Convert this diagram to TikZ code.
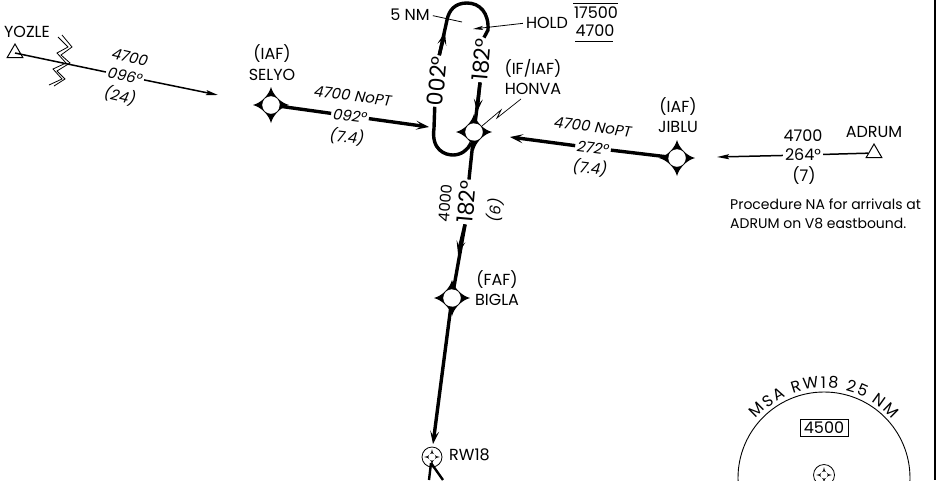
\documentclass[tikz,border=0pt]{standalone}
\usepackage{fontspec}
\setmainfont{Poppins}
\usetikzlibrary{shapes.geometric, arrows.meta, decorations.text}

\begin{document}
\begin{tikzpicture}[x=1pt, y=-1pt]
        \tikzstyle{lbl} = [inner sep=0pt, font=\fontsize{16}{18}\selectfont]
        \tikzstyle{alt} = [inner sep=0pt, font=\fontsize{15}{18}\itshape]
        \tikzstyle{big} = [inner sep=1pt, font=\fontsize{22}{24}\selectfont]
        \tikzstyle{leg} = [line width=3.4pt, -{Stealth[length=13pt, width=9pt, inset=6pt]}]
        \tikzstyle{legn} = [line width=3.4pt]
        \tikzstyle{feeder} = [line width=1.5pt, -{Stealth[length=12pt, width=5pt, inset=2pt]}]
        \tikzstyle{feedern} = [line width=1.5pt]
        \tikzstyle{fixdot} = [circle, fill=white, draw=white, inner sep=0pt, minimum size=17pt]
        \tikzstyle{navaid} = [regular polygon, regular polygon sides=3, draw=black, line width=1pt, minimum size=18pt, inner sep=0pt]
        \tikzstyle{ring} = [circle, draw=black, line width=0.8pt, inner sep=0pt]
        \tikzset{fixstar/.pic={
            \fill[black] (0,-18) .. controls (2,-10) and (10,-2) .. (18,0)
                .. controls (10,2) and (2,10) .. (0,18)
                .. controls (-2,10) and (-10,2) .. (-18,0)
                .. controls (-10,-2) and (-2,-10) .. (0,-18) -- cycle;
        }}
        \tikzset{refmark/.pic={
            \fill[black] (0,-8) .. controls (0.5,-3) and (3,-0.5) .. (8,0)
                .. controls (3,0.5) and (0.5,3) .. (0,8)
                .. controls (-0.5,3) and (-3,0.5) .. (-8,0)
                .. controls (-3,-0.5) and (-0.5,-3) .. (0,-8) -- cycle;
            \fill[white] (0,0) circle (3.6);
        }}
        \useasboundingbox (0,0) rectangle (937,480);
        \clip (0,0) rectangle (937,480);

        % right border
        \coordinate (bordertop) at (935,0);
        \coordinate (borderbot) at (935,480);
        \draw[line width=2.6pt] (bordertop) -- (borderbot);

        % fixes
        \foreach \x/\y in {271/105, 474/132, 677/158, 452/298}{
            \pic at (\x,\y) {fixstar};
        }
        \node[fixdot] (selyo) at (271,105){};
        \node[fixdot] (honva) at (474,132){};
        \node[fixdot] (jiblu) at (677,158){};
        \node[fixdot] (bigla) at (452,298){};

        \node[lbl] (yozlename) at (27,32){YOZLE};
        \node[lbl] (selyoiaf) at (272,54){(IAF)};
        \node[lbl] (selyoname) at (272,75){SELYO};
        \node[lbl] (hontag) at (533,68){(IF/IAF)};
        \node[lbl] (honname) at (533,89){HONVA};
        \node[lbl] (jibiaf) at (678,107){(IAF)};
        \node[lbl] (jibname) at (678,127){JIBLU};
        \node[lbl] (biglafaf) at (497,280){(FAF)};
        \node[lbl] (biglaname) at (497,300){BIGLA};
        \node[lbl] (adrumname) at (874,132){ADRUM};

        % YOZLE feeder
        \coordinate (yozle) at (15,53);
        \coordinate (selyoin) at (218,95);
        \node[alt, rotate=-13] (yozalt) at (130,57){4700};
        \node[alt, rotate=-13, inner sep=2pt] (yozcrs) at (125,76){096°};
        \node[alt, rotate=-13] (yozdist) at (120,96){(24)};
        \draw[feedern] (yozle) -- (yozcrs);
        \draw[feeder] (yozcrs) -- (selyoin);
        \node[navaid] (yoztri) at (15,53){};

        % break marks
        \draw[line width=0.8pt] (58,37) -- (68,47) -- (57,53) -- (66,63) -- (53,69) -- (62,79) -- (49,85);
        \draw[line width=0.8pt] (62,35) -- (72,47) -- (61,55) -- (70,63) -- (57,71) -- (65,79) -- (54,86);

        % SELYO leg
        \node[alt, rotate=-7] (selalt) at (353,96){4700 NoPT};
        \node[alt, rotate=-7, inner sep=2pt] (selcrs) at (350,116){092°};
        \node[alt, rotate=-7] (seldist) at (347,137){(7.4)};
        \coordinate (holdentry) at (429,127);
        \draw[legn] (selyo) -- (selcrs);
        \draw[leg] (selcrs) -- (holdentry);

        % JIBLU leg
        \node[alt, rotate=-7] (jibalt) at (593,127){4700 NoPT};
        \node[alt, rotate=-7, inner sep=2pt] (jibcrs) at (593,148){272°};
        \node[alt, rotate=-7] (jibdist) at (590,168){(7.4)};
        \coordinate (honvain) at (510,137);
        \draw[legn] (jiblu) -- (jibcrs);
        \draw[leg] (jibcrs) -- (honvain);

        % ADRUM feeder
        \node[navaid] (adrum) at (874,153){};
        \node[lbl] (adralt) at (803,136){4700};
        \node[lbl, inner sep=2pt] (adrcrs) at (803,155){264°};
        \node[lbl] (adrdist) at (804,176){(7)};
        \coordinate (jibluin) at (717,157);
        \draw[feedern] (adrum) -- (adrcrs);
        \draw[feeder] (adrcrs) -- (jibluin);
        \node[inner sep=0pt, font=\fontsize{14}{19}\selectfont, align=left, anchor=west] (adrnote) at (730,213.5){Procedure NA for arrivals at\\ADRUM on V8 eastbound.};

        % holding pattern
        \node[big, rotate=85] (holdout) at (437,81){002°};
        \node[big, rotate=85] (holdin) at (482,60){182°};
        \coordinate (holdarr) at (445,32);
        \draw[legn] (holdin.west) -- (honva);
        \coordinate (honvaarr) at (477,112);
        \draw[leg] (holdin.west) -- (honvaarr);
        \draw[legn] (holdin.east) -- (488,30) .. controls (489,13) and (480,3) .. (467,3)
            .. controls (455,3) and (449,10) .. (447,20) -- (holdout.east);
        \draw[leg] (holdout.east) -- (holdarr);
        \draw[legn] (holdout.west) -- (434,128) .. controls (431,150) and (445,155) .. (453,155)
            .. controls (461,155) and (468,150) .. (471,143);

        % final
        \node[inner sep=0pt, font=\fontsize{15}{17}\selectfont, rotate=85] (finalalt) at (445,203){4000};
        \node[big, rotate=85] (finalcrs) at (467,202){182°};
        \node[alt, rotate=85] (finaldist) at (495,210){(6)};
        \coordinate (rwyin) at (433,444);
        \coordinate (biglain) at (458,254);
        \draw[legn] (honva) -- (finalcrs.east);
        \draw[leg] (finalcrs.west) -- (biglain);
        \draw[legn] (finalcrs.west) -- (bigla);
        \draw[leg] (bigla) -- (rwyin);

        % hold labels
        \node[lbl] (fivenm) at (410,15){5 NM};
        \node[lbl] (holdlabel) at (547,23){HOLD};
        \node[lbl] (holdtop) at (596,13){17500};
        \node[lbl] (holdbot) at (595,31){4700};
        \coordinate (fivenmend) at (462,22);
        \coordinate (holdtip) at (473,29);
        \coordinate (topa) at (573,3);
        \coordinate (topb) at (618,3);
        \coordinate (bota) at (575,41);
        \coordinate (botb) at (613,41);
        \draw[line width=0.8pt, shorten <=3pt] (fivenm.east) -- (fivenmend);
        \draw[line width=0.8pt, shorten <=3pt, -{Stealth[length=10pt, width=4pt, inset=2pt]}] (holdlabel.west) -- (holdtip);
        \draw[line width=0.8pt] (topa) -- (topb);
        \draw[line width=0.8pt] (bota) -- (botb);

        % HONVA pointer
        \coordinate (ptrstart) at (521,99);
        \coordinate (ptrend) at (482,126);
        \draw[line width=0.7pt] (ptrstart) -- (497,118) -- (501,110) -- (ptrend);

        % runway
        \node[ring, minimum size=20pt] (rw) at (432,457){};
        \pic at (432,457) {refmark};
        \node[lbl, anchor=west] (rwlabel) at (449,455){RW18};
        \coordinate (rwfoot) at (431,463);
        \coordinate (rwa) at (429,480);
        \coordinate (rwb) at (443,480);
        \draw[line width=2.4pt] (rwfoot) -- (rwa);
        \draw[line width=2.4pt] (rwfoot) -- (rwb);

        % MSA circle
        \node[ring, line width=0.9pt, minimum size=172pt] (msa) at (824,478){};
        \node[draw=black, line width=0.8pt, minimum width=48pt, minimum height=17pt, inner sep=0pt, lbl] (msabox) at (824,428){4500};
        \node[ring, minimum size=21pt] (msaref) at (824,475){};
        \pic at (824,475) {refmark};
        \path[decorate, decoration={text along path, text align=fit to path, text={|\fontsize{16}{18}\selectfont|MSA RW18 25 NM}}]
            (msa.center) ++(221:90) arc (221:319:90);
\end{tikzpicture}
\end{document}
